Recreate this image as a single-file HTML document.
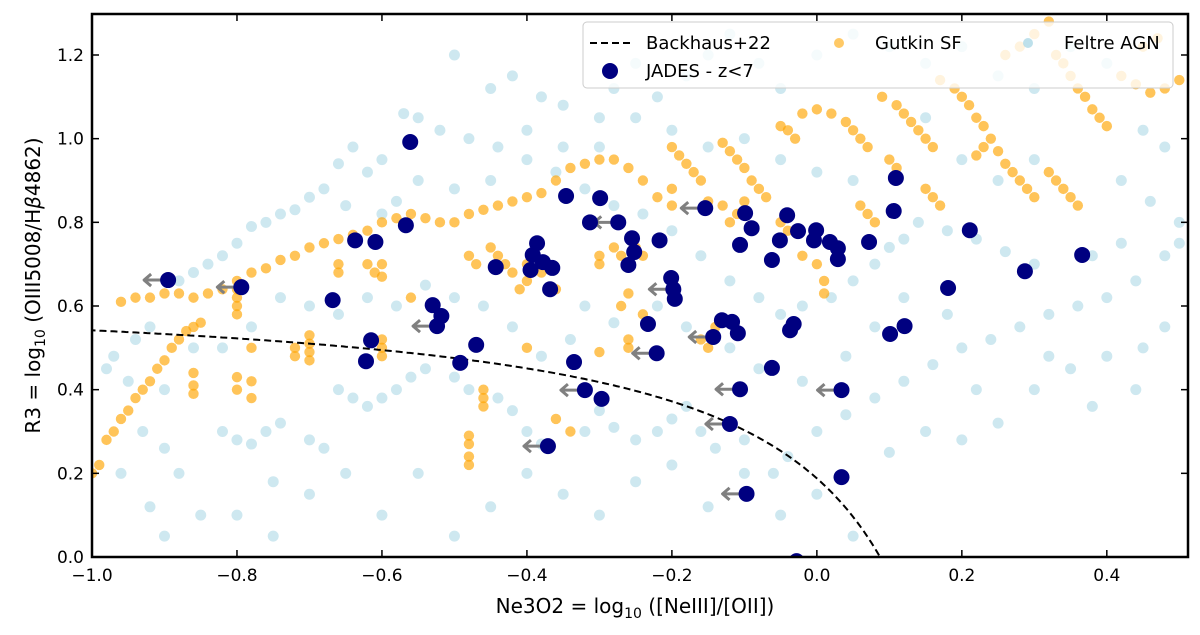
<!DOCTYPE html>
<html><head><meta charset="utf-8"><style>
body{margin:0;background:#fff;}
svg{display:block;font-family:"DejaVu Sans","Liberation Sans",sans-serif;}
</style></head><body>
<svg id="chart" width="1200" height="635"></svg>
<script>
const jadesX=[-0.895,-0.794,-0.668,-0.637,-0.609,-0.567,-0.561,-0.615,-0.622,-0.530,-0.518,-0.524,-0.470,-0.492,-0.443,-0.386,-0.392,-0.378,-0.395,-0.365,-0.368,-0.346,-0.335,-0.320,-0.297,-0.371,-0.299,-0.274,-0.313,-0.255,-0.260,-0.252,-0.217,-0.201,-0.198,-0.196,-0.221,-0.233,-0.154,-0.143,-0.131,-0.117,-0.109,-0.106,-0.120,-0.097,-0.099,-0.106,-0.090,-0.062,-0.062,-0.051,-0.041,-0.037,-0.032,-0.026,-0.004,-0.001,0.018,0.029,0.029,0.034,0.034,0.072,0.101,0.106,0.109,0.121,0.181,0.211,0.287,0.366,-0.028];
const jadesY=[0.662,0.645,0.614,0.757,0.753,0.793,0.992,0.518,0.468,0.602,0.576,0.552,0.507,0.464,0.693,0.750,0.722,0.705,0.686,0.691,0.640,0.863,0.466,0.399,0.378,0.265,0.858,0.800,0.800,0.762,0.698,0.729,0.757,0.667,0.640,0.617,0.487,0.557,0.834,0.526,0.566,0.562,0.535,0.401,0.318,0.151,0.822,0.746,0.786,0.452,0.710,0.757,0.817,0.542,0.557,0.779,0.757,0.781,0.753,0.738,0.712,0.399,0.191,0.753,0.533,0.827,0.906,0.552,0.643,0.781,0.683,0.722,-0.01];
const jadesLimit=[1,1,0,0,0,0,0,0,0,0,0,1,0,0,0,0,0,0,0,0,0,0,0,1,0,1,0,1,0,0,0,0,0,0,1,0,1,0,1,1,0,0,0,1,1,1,0,0,0,0,0,0,0,0,0,0,0,0,0,0,0,1,0,0,0,0,0,0,0,0,0,0,0];
const gutkinX=[-1.0,-0.99,-0.98,-0.97,-0.96,-0.95,-0.94,-0.93,-0.92,-0.91,-0.9,-0.89,-0.88,-0.87,-0.86,-0.85,-0.96,-0.94,-0.92,-0.9,-0.88,-0.86,-0.84,-0.82,-0.8,-0.78,-0.76,-0.74,-0.72,-0.7,-0.68,-0.66,-0.64,-0.62,-0.6,-0.58,-0.56,-0.54,-0.52,-0.5,-0.48,-0.46,-0.44,-0.42,-0.4,-0.38,-0.36,-0.34,-0.32,-0.3,-0.28,-0.26,-0.24,-0.22,-0.2,-0.2,-0.19,-0.18,-0.17,-0.16,-0.13,-0.12,-0.11,-0.1,-0.09,-0.08,-0.07,-0.05,-0.04,-0.03,-0.02,0,0.02,0.04,0.05,0.06,0.07,0.09,0.11,0.12,0.13,0.14,0.15,0.16,0.17,0.19,0.2,0.21,0.22,0.23,0.24,0.25,0.26,0.27,0.28,0.29,0.3,0.33,0.34,0.35,0.36,0.37,0.38,0.39,0.4,0.26,0.28,0.3,0.32,0.42,0.44,0.46,0.48,0.5,0.45,0.47,0.32,0.33,0.34,0.35,0.36,0.22,0.23,0.15,0.16,0.17,-0.8,-0.8,-0.8,-0.8,-0.7,-0.7,-0.7,-0.7,-0.72,-0.72,-0.66,-0.66,-0.62,-0.61,-0.6,-0.6,-0.6,-0.6,-0.48,-0.47,-0.45,-0.44,-0.43,-0.4,-0.4,-0.38,-0.36,-0.42,-0.41,-0.3,-0.3,-0.28,-0.27,-0.25,-0.24,-0.26,-0.27,-0.24,-0.26,-0.26,-0.3,-0.46,-0.46,-0.46,-0.48,-0.48,-0.48,-0.48,-0.36,-0.34,-0.86,-0.86,-0.86,-0.78,-0.78,-0.8,-0.8,-0.78,-0.6,-0.56,-0.4,-0.1,-0.11,-0.12,-0.02,0,0.01,0.01,0.06,0.07,0.08,-0.16,-0.15,-0.14,-0.2,-0.15,-0.13,-0.05,-0.04,0.1,0.11];
const gutkinY=[0.2,0.22,0.28,0.3,0.33,0.35,0.38,0.4,0.42,0.45,0.47,0.5,0.52,0.54,0.55,0.56,0.61,0.62,0.62,0.63,0.63,0.62,0.63,0.64,0.66,0.68,0.69,0.71,0.72,0.74,0.75,0.76,0.77,0.78,0.8,0.81,0.82,0.81,0.8,0.8,0.82,0.83,0.84,0.85,0.86,0.87,0.9,0.93,0.94,0.95,0.95,0.93,0.9,0.86,0.88,0.98,0.96,0.94,0.92,0.9,0.99,0.97,0.95,0.93,0.9,0.88,0.86,1.03,1.02,1.0,1.06,1.07,1.06,1.04,1.02,1.0,0.98,1.1,1.08,1.06,1.04,1.02,1.0,0.98,1.14,1.12,1.1,1.08,1.05,1.03,1.0,0.97,0.94,0.92,0.9,0.88,0.86,1.2,1.18,1.15,1.12,1.1,1.07,1.05,1.03,1.2,1.22,1.25,1.28,1.15,1.13,1.11,1.12,1.14,1.22,1.24,0.92,0.9,0.88,0.86,0.84,0.96,0.98,0.88,0.86,0.84,0.64,0.62,0.6,0.58,0.53,0.51,0.49,0.47,0.5,0.48,0.7,0.68,0.7,0.68,0.67,0.52,0.5,0.48,0.72,0.7,0.74,0.72,0.7,0.7,0.66,0.68,0.64,0.68,0.64,0.72,0.7,0.74,0.72,0.74,0.72,0.63,0.6,0.58,0.52,0.5,0.49,0.4,0.38,0.36,0.29,0.27,0.24,0.22,0.33,0.3,0.44,0.41,0.39,0.42,0.38,0.43,0.4,0.5,0.7,0.62,0.5,0.85,0.82,0.8,0.72,0.7,0.66,0.63,0.84,0.82,0.8,0.52,0.5,0.55,0.84,0.85,0.84,0.8,0.78,0.95,0.93];
const feltreX=[-0.98,-0.95,-0.93,-0.9,-0.88,-0.96,-0.9,-0.82,-0.8,-0.78,-0.76,-0.74,-0.7,-0.68,-0.66,-0.64,-0.62,-0.6,-0.58,-0.56,-0.54,-0.5,-0.48,-0.44,-0.42,-0.4,-0.38,-0.32,-0.3,-0.28,-0.25,-0.22,-0.2,-0.18,-0.16,-0.14,-0.1,-0.06,-0.04,0,0.04,0.08,0.12,0.16,0.2,0.24,0.28,0.32,0.36,0.4,0.44,0.48,0.5,0.42,0.38,0.3,0.26,0.22,0.18,0.14,0.12,0.1,0.08,0.05,0.02,-0.02,-0.05,-0.08,-0.12,-0.16,-0.2,-0.24,-0.28,-0.32,-0.36,-0.4,-0.44,-0.48,-0.52,-0.55,-0.57,-0.6,-0.62,-0.64,-0.66,-0.68,-0.7,-0.72,-0.74,-0.76,-0.78,-0.8,-0.82,-0.84,-0.86,-0.88,-0.92,-0.94,-0.97,-0.5,-0.45,-0.42,-0.38,-0.35,-0.3,-0.28,-0.25,-0.22,-0.18,-0.15,-0.12,-0.08,-0.05,0,0.05,0.1,0.15,0.2,0.25,0.3,0.35,0.4,0.45,0.48,0.42,0.46,0.5,0.3,0.25,0.2,0.15,0.05,0,-0.05,-0.1,-0.15,-0.2,-0.25,-0.3,-0.35,-0.4,-0.45,-0.5,-0.55,-0.58,-0.6,-0.65,-0.8,-0.75,-0.7,-0.65,-0.6,-0.55,-0.5,-0.45,-0.4,-0.35,-0.3,-0.25,-0.2,-0.15,-0.1,-0.05,0,0.05,0.1,0.15,0.2,0.25,0.3,0.35,0.4,0.45,0.48,0.44,0.38,0.32,0.22,0.18,0.12,0.08,0.04,-0.02,-0.08,-0.12,-0.18,-0.22,-0.28,-0.32,-0.34,-0.38,-0.42,-0.46,-0.5,-0.54,-0.58,-0.62,-0.66,-0.7,-0.74,-0.78,-0.82,-0.86,-0.9,-0.75,-0.85,-0.92];
const feltreY=[0.45,0.42,0.3,0.26,0.2,0.2,0.05,0.3,0.28,0.27,0.3,0.32,0.28,0.26,0.4,0.38,0.36,0.38,0.4,0.43,0.45,0.43,0.4,0.38,0.35,0.3,0.27,0.3,0.35,0.31,0.28,0.3,0.33,0.36,0.3,0.26,0.28,0.2,0.24,0.3,0.34,0.38,0.42,0.46,0.5,0.52,0.55,0.58,0.6,0.62,0.66,0.72,0.75,0.75,0.72,0.7,0.73,0.76,0.78,0.8,0.76,0.74,0.7,0.66,0.62,0.6,0.58,0.62,0.66,0.72,0.78,0.82,0.84,0.88,0.92,0.95,0.98,1.0,1.02,1.05,1.06,0.95,0.92,0.98,0.94,0.88,0.86,0.83,0.82,0.8,0.79,0.75,0.72,0.7,0.68,0.66,0.55,0.52,0.48,1.2,1.12,1.15,1.1,1.08,1.05,1.12,1.18,1.1,1.15,1.2,1.25,1.18,1.12,1.2,1.25,1.22,1.18,1.22,1.15,1.12,1.22,1.18,1.02,0.98,0.9,0.85,0.8,0.95,0.9,0.95,1.05,0.9,0.92,0.95,1.0,0.98,1.02,1.05,0.98,0.98,1.02,0.9,0.88,0.9,0.85,0.82,0.84,0.1,0.05,0.15,0.2,0.1,0.2,0.05,0.12,0.2,0.15,0.1,0.18,0.22,0.12,0.2,0.1,0.15,0.05,0.25,0.3,0.28,0.32,0.4,0.45,0.48,0.5,0.55,0.4,0.36,0.48,0.4,0.58,0.62,0.55,0.48,0.42,0.45,0.5,0.55,0.6,0.56,0.6,0.52,0.48,0.55,0.6,0.62,0.65,0.6,0.62,0.58,0.6,0.62,0.55,0.5,0.5,0.4,0.18,0.1,0.12];
const xTicks=[-1.0,-0.8,-0.6,-0.4,-0.2,0.0,0.2,0.4];
const yTicks=[0.0,0.2,0.4,0.6,0.8,1.0,1.2];
const backhaus=[0.648,0.138,0.3]; // R3 = a + b/(x - c)

const NS="http://www.w3.org/2000/svg";
const svg=document.getElementById('chart');
const L=92,R=1188,T=14,B=557,X0=-1.0,X1=0.512,Y0=0,Y1=1.298;
const sx=v=>L+(v-X0)/(X1-X0)*(R-L);
const sy=v=>B-(v-Y0)/(Y1-Y0)*(B-T);
function mk(tag,attrs,parent){const e=document.createElementNS(NS,tag);for(const k in attrs)e.setAttribute(k,attrs[k]);(parent||svg).appendChild(e);return e;}
const defs=mk('defs',{});
const cp=mk('clipPath',{id:'clip'},defs);mk('rect',{x:L,y:T,width:R-L,height:B-T},cp);
const plot=mk('g',{'clip-path':'url(#clip)'});


const gF=mk('g',{},plot);


feltreX.forEach((x,i)=>{const c=mk('circle',{cx:sx(x),cy:sy(feltreY[i]),r:5.5,fill:'#add8e6','fill-opacity':0.6},gF);

});
const gG=mk('g',{},plot);


gutkinX.forEach((x,i)=>{const c=mk('circle',{cx:sx(x),cy:sy(gutkinY[i]),r:5.2,fill:'#ffa500','fill-opacity':0.65},gG);

});
let d='';for(let k=0;k<=300;k++){const x=-1.02+k*(0.0899+1.02)/300;const y=backhaus[0]+backhaus[1]/(x-backhaus[2]);d+=(k?'L':'M')+sx(x).toFixed(1)+','+sy(y).toFixed(1);}
const line=mk('path',{d:d,fill:'none',stroke:'#000','stroke-width':2,'stroke-dasharray':'7,4'},plot);


const gJ=mk('g',{},plot);


jadesX.forEach((x,i)=>{if(jadesLimit[i]){const px=sx(x),py=sy(jadesY[i]);
const a=mk('path',{d:`M${px-2},${py} L${px-24},${py} M${px-17},${py-6} L${px-24},${py} L${px-17},${py+6}`,fill:'none',stroke:'#808080','stroke-width':3,'stroke-linejoin':'round'},gJ);

}});
jadesX.forEach((x,i)=>{const c=mk('circle',{cx:sx(x),cy:sy(jadesY[i]),r:8,fill:'#000080'},gJ);

});
const ax=mk('g',{});


xTicks.forEach(v=>{const p=sx(v);mk('line',{x1:p,y1:B,x2:p,y2:B-7,stroke:'#000','stroke-width':1.5},ax);mk('line',{x1:p,y1:T,x2:p,y2:T+7,stroke:'#000','stroke-width':1.5},ax);
const t=mk('text',{x:p,y:B+24,'text-anchor':'middle','font-size':17},ax);t.textContent=(v<0?'\u2212':'')+Math.abs(v).toFixed(1);

});
yTicks.forEach(v=>{const p=sy(v);mk('line',{x1:L,y1:p,x2:L+7,y2:p,stroke:'#000','stroke-width':1.5},ax);mk('line',{x1:R,y1:p,x2:R-7,y2:p,stroke:'#000','stroke-width':1.5},ax);
const t=mk('text',{x:L-8,y:p+6,'text-anchor':'end','font-size':17},ax);t.textContent=v.toFixed(1);

});
mk('rect',{x:L,y:T,width:R-L,height:B-T,fill:'none',stroke:'#000','stroke-width':2.5},ax);
const xl=mk('text',{x:(L+R)/2-5,y:613,'text-anchor':'middle','font-size':20},ax);
xl.innerHTML='Ne3O2 = log<tspan font-size="14" dy="5">10</tspan><tspan dy="-5"> ([NeIII]/[OII])</tspan>';


const yl=mk('text',{x:0,y:0,'text-anchor':'middle','font-size':20,transform:'translate(40,'+((T+B)/2)+') rotate(-90)'},ax);
yl.innerHTML='R3 = log<tspan font-size="14" dy="5">10</tspan><tspan dy="-5"> (OIII5008/H</tspan><tspan font-style="italic">β</tspan>4862)';


const lg=mk('g',{});


mk('rect',{x:583,y:22,width:590,height:66,rx:4,fill:'#fff','fill-opacity':0.8,stroke:'#ccc','stroke-width':1},lg);
mk('line',{x1:590,y1:43,x2:630,y2:43,stroke:'#000','stroke-width':2,'stroke-dasharray':'7,4'},lg);
mk('circle',{cx:610,cy:71,r:8,fill:'#000080'},lg);
mk('circle',{cx:839,cy:43,r:5,fill:'#ffa500','fill-opacity':0.6},lg);
mk('circle',{cx:1028,cy:43,r:5,fill:'#add8e6','fill-opacity':0.8},lg);
[['Backhaus+22',646,49],['JADES - z<7',646,77],['Gutkin SF',875,49],['Feltre AGN',1064,49]].forEach(a=>{const t=mk('text',{x:a[1],y:a[2],'font-size':18},lg);t.textContent=a[0];

});
</script>
</body></html>
